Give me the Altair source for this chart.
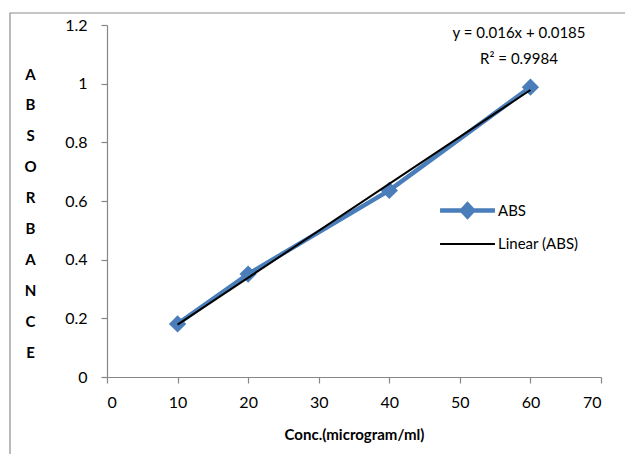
import altair as alt
import pandas as pd

conc = [10, 20, 40, 60]
absorbance = [0.181, 0.351, 0.636, 0.988]
series_names = ["ABS", "Linear (ABS)"]
slope = 0.016
intercept = 0.0185
trend_x = [10, 60]
eq_lines = ["y = 0.016x + 0.0185", "R² = 0.9984"]
y_letters = ["A", "B", "S", "O", "R", "B", "A", "N", "C", "E"]
x_ticks = [0, 10, 20, 30, 40, 50, 60, 70]
y_ticks = [0, 0.2, 0.4, 0.6, 0.8, 1.0, 1.2]

FONT = "Lato"
BLUE = "#4a7ebb"

df = pd.DataFrame({"conc": conc, "abs": absorbance, "series": series_names[0]})
trend = pd.DataFrame({"conc": trend_x,
                      "abs": [slope * v + intercept for v in trend_x],
                      "series": series_names[1]})

abs_path = "M-1.83,0H1.83M0,-0.4L0.37,0L0,0.4L-0.37,0Z"
lin_path = "M-1.83,0H1.83"

xs = alt.X("conc:Q", scale=alt.Scale(domain=[0, 70], nice=False),
           axis=alt.Axis(values=x_ticks, title="Conc.(microgram/ml)", grid=False,
                         tickSize=6, labelPadding=11, titlePadding=17))
ys = alt.Y("abs:Q", scale=alt.Scale(domain=[0, 1.2], nice=False),
           axis=alt.Axis(values=y_ticks, grid=False, tickSize=6, labelPadding=14,
                         labelExpr="datum.value == 0 || datum.value == 1 ? format(datum.value, 'd') : format(datum.value, '.1f')",
                         title=y_letters, titleAngle=0, titleAlign="center",
                         titleBaseline="top", titleX=-77, titleY=42,
                         titleLineHeight=30.9, titleFontSize=15))

color = alt.Color("series:N", scale=alt.Scale(domain=series_names, range=[BLUE, "#000000"]),
                  legend=alt.Legend(title=None, orient="none", legendX=343, legendY=168,
                                    symbolSize=900, labelFontSize=15, labelFont=FONT,
                                    labelOffset=13, rowPadding=2, symbolOpacity=1))
shape = alt.Shape("series:N", scale=alt.Scale(domain=series_names, range=[abs_path, lin_path]))
sw = alt.StrokeWidth("series:N", scale=alt.Scale(domain=series_names, range=[4.5, 2]))

border = alt.Chart(pd.DataFrame({"k": [0]})).mark_rect(
    fill=None, stroke="#8c8c8c", strokeWidth=1.2, clip=False).encode(
    x=alt.value(-97), x2=alt.value(540), y=alt.value(-12), y2=alt.value(450))

line = alt.Chart(df).mark_line().encode(x=xs, y=ys, color=color, strokeWidth=sw)
# empty layer that only feeds the legend its symbol shapes
legend_shapes = alt.Chart(df).transform_filter("datum.abs < 0").mark_point(
    filled=True, opacity=1).encode(x="conc:Q", y="abs:Q", color=color, shape=shape)
pts = alt.Chart(df).mark_point(filled=True, size=300, opacity=1, strokeWidth=0,
                               shape="diamond").encode(
    x="conc:Q", y="abs:Q", color=color)
tl = alt.Chart(trend).mark_line().encode(x="conc:Q", y="abs:Q", color=color, strokeWidth=sw)

eq = alt.Chart(pd.DataFrame({"k": [0]})).mark_text(
    font=FONT, fontSize=15, align="center", baseline="middle", lineHeight=26, color="black"
).encode(x=alt.value(412), y=alt.value(8), text=alt.value(eq_lines))

chart = alt.layer(border, line, legend_shapes, pts, tl, eq).properties(
    width=494, height=352,
    autosize=alt.AutoSizeParams(type="none"),
    padding={"left": 107, "top": 25, "right": 24, "bottom": 77},
).configure_view(stroke=None).configure_axis(
    domainColor="#868686", tickColor="#868686", labelFont=FONT, labelFontSize=16,
    labelColor="black", titleFont=FONT, titleFontSize=15, titleFontWeight="bold",
    titleColor="black", domainWidth=1.2, tickWidth=1.2
)

chart.save("out.html", embed_options={"renderer": "svg", "actions": False})
